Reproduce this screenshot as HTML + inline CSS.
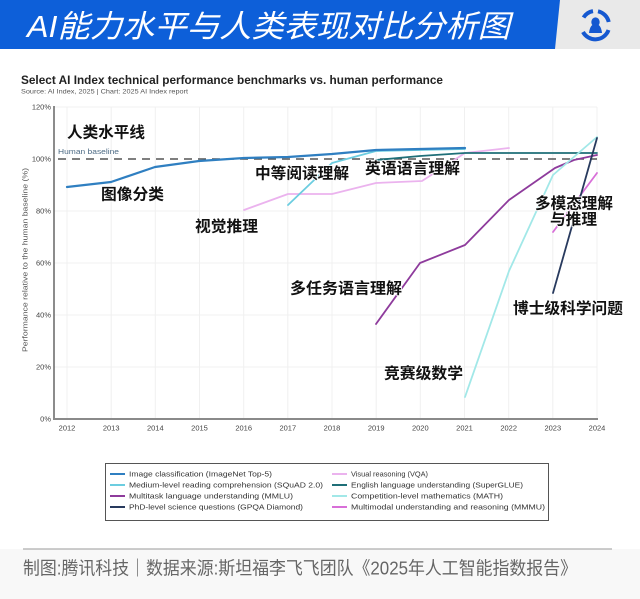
<!DOCTYPE html>
<html>
<head>
<meta charset="utf-8">
<style>
html,body{margin:0;padding:0;background:#fff;}
svg{display:block;}
.cj{font-family:"Liberation Sans","Noto Sans CJK SC",sans-serif;}
.lb{font-family:"Liberation Sans","Noto Sans CJK SC",sans-serif;font-weight:bold;font-size:15.5px;fill:#111;stroke:#fff;stroke-width:1.6px;paint-order:stroke;}
.tk{font-family:"Liberation Sans",sans-serif;font-size:7.5px;fill:#444;}
.lg{font-family:"Liberation Sans",sans-serif;font-size:7.5px;fill:#333;}
</style>
</head>
<body>
<svg width="640" height="599" viewBox="0 0 640 599" xmlns="http://www.w3.org/2000/svg">
  <!-- backgrounds -->
  <rect x="0" y="0" width="640" height="599" fill="#ffffff"/>
  <rect x="0" y="549" width="640" height="50" fill="#f8f8f8"/>
  <!-- header -->
  <rect x="540" y="0" width="100" height="49" fill="#e9e9e9"/>
  <polygon points="0,0 560,0 555,49 0,49" fill="#0d5fd9"/>
  <text x="27" y="37" class="cj" font-size="31" font-style="italic" fill="#fff" textLength="483" lengthAdjust="spacingAndGlyphs">AI能力水平与人类表现对比分析图</text>
  <!-- logo -->
  <g fill="none" stroke="#1558d0" stroke-width="4">
    <path d="M583.5 17.5 A14 14 0 0 1 593 11.1"/>
    <path d="M598 11.3 A14 14 0 0 1 608.7 22"/>
    <path d="M608.5 30 A14 14 0 0 1 583 32"/>
  </g>
  <ellipse cx="595.5" cy="22" rx="4.2" ry="4.6" fill="#1558d0"/>
  <path d="M589 33 Q590 24 595.5 24 Q601 24 602 33 Z" fill="#1558d0"/>

  <!-- chart title -->
  <text x="21" y="84" font-family="Liberation Sans,sans-serif" font-weight="bold" font-size="12" fill="#222" textLength="422" lengthAdjust="spacingAndGlyphs">Select AI Index technical performance benchmarks vs. human performance</text>
  <text x="21" y="93.5" font-family="Liberation Sans,sans-serif" font-size="6.5" fill="#555" textLength="167" lengthAdjust="spacingAndGlyphs">Source: AI Index, 2025 | Chart: 2025 AI Index report</text>

  <!-- grid -->
  <g stroke="#f0f0f0" stroke-width="1">
    <line x1="54" y1="107" x2="597" y2="107"/>
    <line x1="54" y1="211" x2="597" y2="211"/>
    <line x1="54" y1="263" x2="597" y2="263"/>
    <line x1="54" y1="315" x2="597" y2="315"/>
    <line x1="54" y1="367" x2="597" y2="367"/>
    <line x1="67" y1="107" x2="67" y2="419"/>
    <line x1="111.2" y1="107" x2="111.2" y2="419"/>
    <line x1="155.3" y1="107" x2="155.3" y2="419"/>
    <line x1="199.5" y1="107" x2="199.5" y2="419"/>
    <line x1="243.7" y1="107" x2="243.7" y2="419"/>
    <line x1="287.8" y1="107" x2="287.8" y2="419"/>
    <line x1="332" y1="107" x2="332" y2="419"/>
    <line x1="376.2" y1="107" x2="376.2" y2="419"/>
    <line x1="420.3" y1="107" x2="420.3" y2="419"/>
    <line x1="464.5" y1="107" x2="464.5" y2="419"/>
    <line x1="508.7" y1="107" x2="508.7" y2="419"/>
    <line x1="552.8" y1="107" x2="552.8" y2="419"/>
    <line x1="597" y1="107" x2="597" y2="419"/>
  </g>

  <!-- axes -->
  <line x1="54" y1="106" x2="54" y2="420" stroke="#666" stroke-width="1.5"/>
  <line x1="53" y1="419" x2="598" y2="419" stroke="#8a8a8a" stroke-width="2"/>

  <!-- y tick labels -->
  <g class="tk" text-anchor="end">
    <text x="51" y="109.5">120%</text>
    <text x="51" y="161.5">100%</text>
    <text x="51" y="213.5">80%</text>
    <text x="51" y="265.5">60%</text>
    <text x="51" y="317.5">40%</text>
    <text x="51" y="369.5">20%</text>
    <text x="51" y="421.5">0%</text>
  </g>
  <!-- x tick labels -->
  <g class="tk" text-anchor="middle">
    <text x="67" y="430.5">2012</text>
    <text x="111.2" y="430.5">2013</text>
    <text x="155.3" y="430.5">2014</text>
    <text x="199.5" y="430.5">2015</text>
    <text x="243.7" y="430.5">2016</text>
    <text x="287.8" y="430.5">2017</text>
    <text x="332" y="430.5">2018</text>
    <text x="376.2" y="430.5">2019</text>
    <text x="420.3" y="430.5">2020</text>
    <text x="464.5" y="430.5">2021</text>
    <text x="508.7" y="430.5">2022</text>
    <text x="552.8" y="430.5">2023</text>
    <text x="597" y="430.5">2024</text>
  </g>
  <!-- y axis title -->
  <text transform="translate(27.5,260) rotate(-90)" text-anchor="middle" font-family="Liberation Sans,sans-serif" font-size="7.5" fill="#555" textLength="184" lengthAdjust="spacingAndGlyphs">Performance relative to the human baseline (%)</text>

  <!-- human baseline -->
  <line x1="58" y1="159" x2="597" y2="159" stroke="#555" stroke-width="1.5" stroke-dasharray="8,6"/>
  <text x="58" y="154" font-family="Liberation Sans,sans-serif" font-size="7.5" fill="#4d6b85" textLength="61" lengthAdjust="spacingAndGlyphs">Human baseline</text>

  <!-- series -->
  <g fill="none" stroke-linejoin="round" stroke-linecap="round">
    <!-- VQA -->
    <polyline stroke="#ebb3ee" stroke-width="1.8" points="244,210 288,194 332,194 376,183 422,181 465,153 509,148"/>
    <!-- SQuAD -->
    <polyline stroke="#6ccde0" stroke-width="1.8" points="288,205 332,163 376,151 420,150 465,149"/>
    <!-- ImageNet -->
    <polyline stroke="#2f7fc1" stroke-width="2.2" points="67,187 111,182 155,167 199,161 244,158 288,157 332,154 376,150 420,149 465,148"/>
    <!-- SuperGLUE -->
    <polyline stroke="#1f6f78" stroke-width="1.8" points="376,160 420,156 465,153 509,153 553,153 597,153"/>
    <!-- MMLU -->
    <polyline stroke="#8e3b9c" stroke-width="1.8" points="376,324 420,263 465,245 509,200 555,168 574,160 597,155"/>
    <!-- MATH -->
    <polyline stroke="#a2e8e8" stroke-width="1.8" points="465,397 509,271 553,175 597,137"/>
    <!-- MMMU -->
    <polyline stroke="#d86fd8" stroke-width="1.8" points="553,232 597,173"/>
    <!-- GPQA -->
    <polyline stroke="#283a5e" stroke-width="1.8" points="553,293 597,138"/>
  </g>

  <!-- chinese labels -->
  <text class="lb" x="67" y="137.5" textLength="78" lengthAdjust="spacingAndGlyphs">人类水平线</text>
  <text class="lb" x="101" y="199.5" textLength="63" lengthAdjust="spacingAndGlyphs">图像分类</text>
  <text class="lb" x="255" y="178.5" textLength="94" lengthAdjust="spacingAndGlyphs">中等阅读理解</text>
  <text class="lb" x="365" y="173.5" textLength="95" lengthAdjust="spacingAndGlyphs">英语语言理解</text>
  <text class="lb" x="195" y="231.5" textLength="63" lengthAdjust="spacingAndGlyphs">视觉推理</text>
  <text class="lb" x="290" y="293.5" textLength="112" lengthAdjust="spacingAndGlyphs">多任务语言理解</text>
  <text class="lb" x="384" y="378.5" textLength="79" lengthAdjust="spacingAndGlyphs">竞赛级数学</text>
  <text class="lb" x="513" y="313.5" textLength="110" lengthAdjust="spacingAndGlyphs">博士级科学问题</text>
  <text class="lb" x="535" y="208.5" textLength="78" lengthAdjust="spacingAndGlyphs">多模态理解</text>
  <text class="lb" x="550" y="224.5" textLength="47" lengthAdjust="spacingAndGlyphs">与推理</text>

  <!-- legend -->
  <rect x="105.5" y="463.5" width="443" height="57" fill="#fff" stroke="#555" stroke-width="1"/>
  <g stroke-width="2">
    <line x1="110" y1="474" x2="125" y2="474" stroke="#2f7fc1"/>
    <line x1="110" y1="485" x2="125" y2="485" stroke="#6ccde0"/>
    <line x1="110" y1="496" x2="125" y2="496" stroke="#8e3b9c"/>
    <line x1="110" y1="507" x2="125" y2="507" stroke="#283a5e"/>
    <line x1="332" y1="474" x2="347" y2="474" stroke="#ebb3ee"/>
    <line x1="332" y1="485" x2="347" y2="485" stroke="#1f6f78"/>
    <line x1="332" y1="496" x2="347" y2="496" stroke="#a2e8e8"/>
    <line x1="332" y1="507" x2="347" y2="507" stroke="#d86fd8"/>
  </g>
  <g class="lg">
    <text x="129" y="476.7" textLength="143" lengthAdjust="spacingAndGlyphs">Image classification (ImageNet Top-5)</text>
    <text x="129" y="487.7" textLength="194" lengthAdjust="spacingAndGlyphs">Medium-level reading comprehension (SQuAD 2.0)</text>
    <text x="129" y="498.7" textLength="164" lengthAdjust="spacingAndGlyphs">Multitask language understanding (MMLU)</text>
    <text x="129" y="509.7" textLength="174" lengthAdjust="spacingAndGlyphs">PhD-level science questions (GPQA Diamond)</text>
    <text x="351" y="476.7" textLength="77" lengthAdjust="spacingAndGlyphs">Visual reasoning (VQA)</text>
    <text x="351" y="487.7" textLength="172" lengthAdjust="spacingAndGlyphs">English language understanding (SuperGLUE)</text>
    <text x="351" y="498.7" textLength="152" lengthAdjust="spacingAndGlyphs">Competition-level mathematics (MATH)</text>
    <text x="351" y="509.7" textLength="194" lengthAdjust="spacingAndGlyphs">Multimodal understanding and reasoning (MMMU)</text>
  </g>

  <!-- footer -->
  <line x1="23" y1="549" x2="612" y2="549" stroke="#9a9a9a" stroke-width="1"/>
  <text x="23" y="574.5" class="cj" font-size="18" fill="#666" textLength="554" lengthAdjust="spacingAndGlyphs">制图:腾讯科技｜数据来源:斯坦福李飞飞团队《2025年人工智能指数报告》</text>
</svg>
</body>
</html>
